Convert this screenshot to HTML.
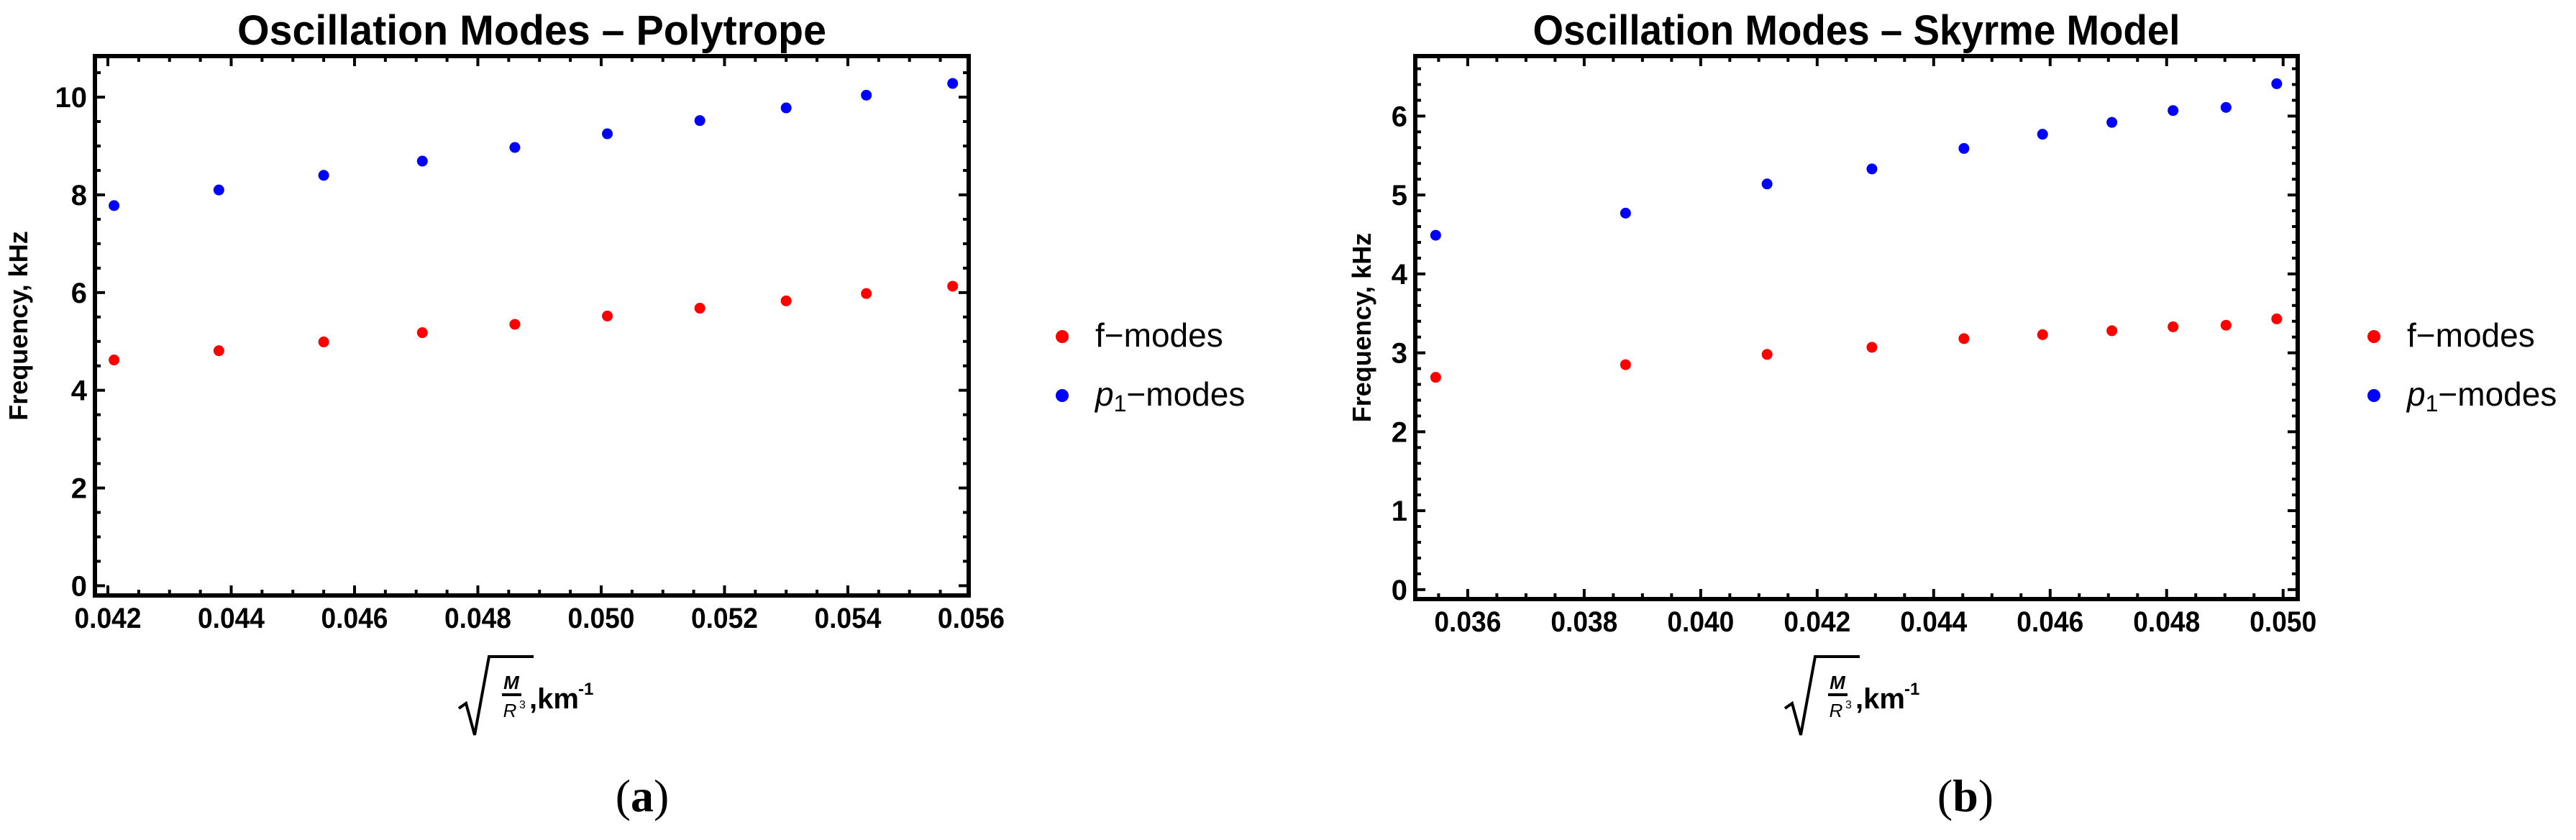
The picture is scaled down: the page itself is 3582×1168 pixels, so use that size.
<!DOCTYPE html>
<html><head><meta charset="utf-8">
<style>
html,body{margin:0;padding:0;background:#fff;}
svg{display:block;}
text{font-family:"Liberation Sans",Arial,sans-serif;}
</style></head>
<body>
<svg id="fig" xmlns="http://www.w3.org/2000/svg" width="3582" height="1168" viewBox="0 0 3582 1168">
<rect width="3582" height="1168" fill="#fff"/>
</svg>
<script>
// Panel (a) Polytrope data
const polyX = [0.0421, 0.0438, 0.0455, 0.0471, 0.0486, 0.0501, 0.0516, 0.0530, 0.0543, 0.0557];
const polyF = [4.62, 4.81, 4.99, 5.18, 5.35, 5.52, 5.68, 5.83, 5.98, 6.13];
const polyP = [7.78, 8.10, 8.40, 8.69, 8.97, 9.25, 9.52, 9.78, 10.04, 10.28];
const polyXTicks = ["0.042","0.044","0.046","0.048","0.050","0.052","0.054","0.056"];
const polyYTicks = ["0","2","4","6","8","10"];
// Panel (b) Skyrme data
const skyX = [0.03545, 0.03871, 0.04114, 0.04294, 0.04452, 0.04587, 0.04706, 0.04811, 0.04902, 0.04989];
const skyF = [2.69, 2.85, 2.98, 3.07, 3.18, 3.23, 3.28, 3.33, 3.35, 3.43];
const skyP = [4.49, 4.77, 5.14, 5.33, 5.59, 5.77, 5.92, 6.07, 6.11, 6.41];
const skyXTicks = ["0.036","0.038","0.040","0.042","0.044","0.046","0.048","0.050"];
const skyYTicks = ["0","1","2","3","4","5","6"];

const NS = "http://www.w3.org/2000/svg";
const svg = document.getElementById('fig');
function mk(tag, attrs, parent){
  const e = document.createElementNS(NS, tag);
  for (const k in attrs) e.setAttribute(k, attrs[k]);
  (parent||svg).appendChild(e);
  return e;
}

function panel(o){
  const g = mk('g', {});
  
  
  const sx = v => o.L + (v - o.xmin) / (o.xmax - o.xmin) * (o.R - o.L);
  const sy = v => o.B - (v - o.ymin) / (o.ymax - o.ymin) * (o.B - o.T);

  // title
  const t = mk('text', {x:(o.L+o.R)/2, y:62, 'text-anchor':'middle', 'font-size':58, 'font-weight':'bold', textLength:o.titleLen, lengthAdjust:'spacingAndGlyphs'}, g);
  t.textContent = o.title;
  
  

  // ticks
  const tg = mk('g', {stroke:'#000', 'stroke-width':4}, g);
  
  
  const xStart = Math.ceil(o.xmin / o.xminor - 1e-6) * o.xminor;
  for (let v = xStart; v <= o.xmax + 1e-9; v += o.xminor) {
    const isMaj = Math.abs(v / o.xmajor - Math.round(v / o.xmajor)) < 1e-6;
    const len = isMaj ? 14 : 8, x = sx(v);
    mk('line', {x1:x, x2:x, y1:o.B, y2:o.B-len}, tg);
    mk('line', {x1:x, x2:x, y1:o.T, y2:o.T+len}, tg);
  }
  const yStart = Math.ceil(o.ymin / o.yminor - 1e-6) * o.yminor;
  for (let v = yStart; v <= o.ymax + 1e-9; v += o.yminor) {
    const isMaj = Math.abs(v / o.ymajor - Math.round(v / o.ymajor)) < 1e-6;
    const len = isMaj ? 14 : 8, y = sy(v);
    mk('line', {x1:o.L, x2:o.L+len, y1:y, y2:y}, tg);
    mk('line', {x1:o.R, x2:o.R-len, y1:y, y2:y}, tg);
  }
  // frame
  const fr = mk('rect', {x:o.L, y:o.T, width:o.R-o.L, height:o.B-o.T, fill:'none', stroke:'#000', 'stroke-width':6}, g);
  
  

  // tick labels
  o.xt.forEach(s => {
    const tx = mk('text', {x:sx(parseFloat(s)), y:o.B+45, 'text-anchor':'middle', 'font-size':40, 'font-weight':'bold', textLength:93, lengthAdjust:'spacingAndGlyphs'}, g);
    tx.textContent = s;
    
    
  });
  o.yt.forEach(s => {
    const ty = mk('text', {x:o.L-11, y:sy(parseFloat(s))+14, 'text-anchor':'end', 'font-size':40, 'font-weight':'bold'}, g);
    ty.textContent = s;
    
    
  });

  // y axis title
  const yc = (o.T+o.B)/2;
  const yl = mk('text', {x:o.ytx, y:yc, 'text-anchor':'middle', 'font-size':36, 'font-weight':'bold', transform:`rotate(-90 ${o.ytx} ${yc})`}, g);
  yl.textContent = 'Frequency, kHz';
  
  

  // x axis title (sqrt(M/R^3), km^-1)
  const xg = mk('g', {}, g);
  
  
  const a = o.xlab;
  mk('path', {d:`M${a} 985 L${a+10} 978 L${a+22} 1022 L${a+42} 913 L${a+104} 913`, fill:'none', stroke:'#000', 'stroke-width':4}, xg);
  const m = mk('text', {x:a+73, y:958, 'text-anchor':'middle', 'font-size':26, 'font-style':'italic', 'font-weight':'bold'}, xg); m.textContent = 'M';
  mk('line', {x1:a+60, x2:a+87, y1:966, y2:966, stroke:'#000', 'stroke-width':4}, xg);
  const r = mk('text', {x:a+71, y:997, 'text-anchor':'middle', 'font-size':26, 'font-style':'italic'}, xg); r.textContent = 'R';
  const r3 = mk('text', {x:a+84, y:985, 'font-size':16}, xg); r3.textContent = '3';
  const km = mk('text', {x:a+98, y:985, 'font-size':40, 'font-weight':'bold'}, xg); km.textContent = ',km';
  const km1 = mk('text', {x:a+166, y:966, 'font-size':24, 'font-weight':'bold'}, xg); km1.textContent = '-1';

  // series
  const series = [[o.f, '#ff0000', 'f-modes-series'], [o.p, '#0000ff', 'p1-modes-series']];
  series.forEach(([vals, col, nm]) => {
    const sg = mk('g', {fill:col}, g);
    
    
    vals.forEach((v, i) => {
      const c = mk('circle', {cx:sx(o.x[i]), cy:sy(v), r:7.5}, sg);
      
      
    });
  });

  // legend
  const lg = mk('g', {}, g);
  
  
  const le1 = mk('g', {}, lg);
  
  
  mk('circle', {cx:o.legX, cy:468, r:9, fill:'#ff0000'}, le1);
  const lt1 = mk('text', {x:o.legX+46, y:482, 'font-size':46}, le1); lt1.textContent = 'f\u2212modes';
  const le2 = mk('g', {}, lg);
  
  
  mk('circle', {cx:o.legX, cy:550, r:9, fill:'#0000ff'}, le2);
  const lt2 = mk('text', {x:o.legX+46, y:564, 'font-size':46}, le2);
  const tp = document.createElementNS(NS, 'tspan'); tp.setAttribute('font-style','italic'); tp.textContent = 'p'; lt2.appendChild(tp);
  const ts = document.createElementNS(NS, 'tspan'); ts.setAttribute('font-size','32'); ts.setAttribute('dy','8'); ts.textContent = '1'; lt2.appendChild(ts);
  const tm = document.createElementNS(NS, 'tspan'); tm.setAttribute('dy','-8'); tm.textContent = '\u2212modes'; lt2.appendChild(tm);

  // panel label
  const pl = mk('text', {x:o.labX, y:1128, 'text-anchor':'middle', 'font-size':64, 'font-family':'"Liberation Serif",serif'}, g);
  pl.style.fontFamily = '"Liberation Serif", serif';
  pl.innerHTML = '(<tspan font-weight="bold">' + o.lab + '</tspan>)';
  
  
}

panel({name:'panel-a-polytrope', title:'Oscillation Modes \u2013 Polytrope', titleLen:819,
  L:132, R:1347, T:78, B:828, xmin:0.04179, xmax:0.05596, ymin:-0.2, ymax:10.84,
  xmajor:0.002, xminor:0.0005, ymajor:2, yminor:0.5,
  xt:polyXTicks, yt:polyYTicks, x:polyX, f:polyF, p:polyP,
  ytx:38, xlab:638, legX:1477, labX:893, lab:'a'});

panel({name:'panel-b-skyrme', title:'Oscillation Modes \u2013 Skyrme Model', titleLen:900,
  L:1968, R:3195, T:78, B:833, xmin:0.0351, xmax:0.05025, ymin:-0.12, ymax:6.76,
  xmajor:0.002, xminor:0.0005, ymajor:1, yminor:0.2,
  xt:skyXTicks, yt:skyYTicks, x:skyX, f:skyF, p:skyP,
  ytx:1906, xlab:2482, legX:3301, labX:2733, lab:'b'});
</script>
</body></html>
